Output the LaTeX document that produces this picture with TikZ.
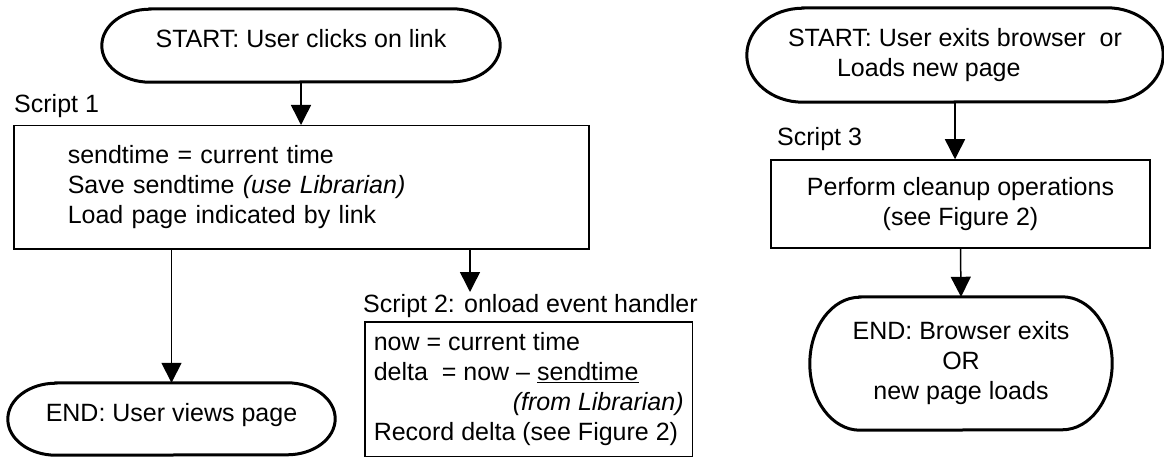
\documentclass[tikz,border=0pt]{standalone}
\usepackage{fontspec}
\setmainfont{Liberation Sans}
\usetikzlibrary{arrows.meta}
\newcommand\stadiumoutline[3]{%
  \draw[line width=3pt] ([xshift=#2]#1.north west) -- ([xshift=-#2]#1.north east)
    arc[start angle=90, end angle=-90, x radius=#2, y radius=#3]
    -- ([xshift=#2]#1.south west)
    arc[start angle=270, end angle=90, x radius=#2, y radius=#3] -- cycle;}
\begin{document}
\begin{tikzpicture}[x=1pt,y=-1pt,
  every node/.style={font=\fontsize{25}{30}\selectfont, inner sep=0pt},
  ovalone/.style={text height=18pt, text depth=14pt},
  ovalmulti/.style={align=center},
  procbox/.style={draw, line width=1.5pt},
  caption/.style={anchor=base west},
  arr/.style={line width=1.5pt, -{Triangle[length=20pt,width=20pt]}}
]
\useasboundingbox (0,0) rectangle (1164,457);

% left flow
\node[ovalone, minimum width=398pt, minimum height=73pt] (s1) at (301,45.5) {START: User clicks on link};
\stadiumoutline{s1}{48pt}{36.5pt}
\node[caption] (l1) at (14,113) {Script 1};
\node[procbox, anchor=north west, minimum width=575pt, minimum height=123pt,
      text width=467pt, inner xsep=54pt, align=left] (b1) at (13,125)
  {sendtime = current time\\
   Save sendtime \textit{(use Librarian)}\\
   Load page indicated by link};
\node[ovalone, minimum width=327pt, minimum height=72pt] (e1) at (171.5,419) {END: User views page};
\stadiumoutline{e1}{48pt}{36pt}
\node[caption] (l2) at (363,312) {Script 2: onload event handler};
\coordinate (c2) at (470,292);
\node[procbox, anchor=north west, minimum height=135pt, inner xsep=9pt, align=left] (b2) at (364,321)
  {now = current time\\
   delta\ \ = now – \underline{sendtime}\\
   \hspace*{139pt}\textit{(from Librarian)}\\
   Record delta (see Figure 2)};

\draw[arr] (s1.south) -- (s1.south |- b1.north);
\draw[arr] (e1.north |- b1.south) -- (e1.north);
\draw[arr] (c2 |- b1.south) -- (c2);

% right flow
\node[minimum width=416pt, minimum height=94pt, align=left] (s3) at (955,55)
  {START: User exits browser\ \ or\\
   \hspace*{49pt}Loads new page};
\stadiumoutline{s3}{56pt}{47pt}
\node[caption] (l3) at (777,146) {Script 3};
\node[procbox, minimum width=379pt, minimum height=88pt, align=center] (b3) at (960.5,204)
  {Perform cleanup operations\\(see Figure 2)};
\node[ovalmulti, minimum width=302pt, minimum height=133pt] (e3) at (961,363.5)
  {END: Browser exits\\OR\\new page loads};
\stadiumoutline{e3}{50pt}{66.5pt}

\draw[arr] (s3.south) -- (s3.south |- b3.north);
\draw[arr] (b3.south) -- (e3.north);
\end{tikzpicture}
\end{document}
